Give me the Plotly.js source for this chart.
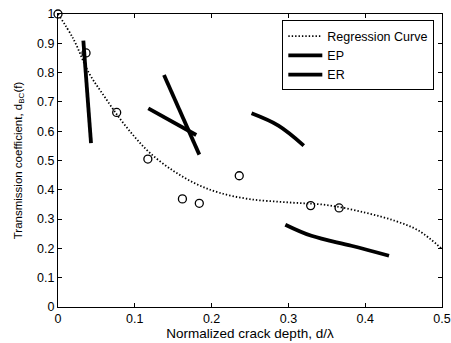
<!DOCTYPE html>
<html><head><meta charset="utf-8">
<script src="https://cdn.plot.ly/plotly-3.0.1.min.js"></script>
<style>html,body{margin:0;padding:0;background:#fff}</style>
</head><body><div id="chart" style="width:451px;height:343px"></div>
<script>
// Regression curve
const regX = [0, 0.02, 0.04, 0.06, 0.08, 0.10, 0.12, 0.15, 0.18, 0.21, 0.25, 0.30, 0.35, 0.40, 0.44, 0.47, 0.50];
const regY = [1.0, 0.915, 0.80, 0.72, 0.645, 0.58, 0.525, 0.465, 0.42, 0.39, 0.368, 0.357, 0.348, 0.322, 0.293, 0.26, 0.198];
// Measured points (circles)
const ptX = [0, 0.0365, 0.0764, 0.117, 0.162, 0.184, 0.236, 0.329, 0.366];
const ptY = [1.0, 0.867, 0.664, 0.505, 0.369, 0.354, 0.448, 0.346, 0.338];
// EP segments
const ep1X = [0.033, 0.043], ep1Y = [0.909, 0.559];
const ep2X = [0.138, 0.184], ep2Y = [0.792, 0.52];
// ER segments
const er1X = [0.1176, 0.18], er1Y = [0.678, 0.587];
const er2X = [0.252, 0.287, 0.320], er2Y = [0.661, 0.619, 0.551];
const er3X = [0.296, 0.330, 0.382, 0.431], er3Y = [0.281, 0.243, 0.209, 0.175];
const xTicks = [0, 0.1, 0.2, 0.3, 0.4, 0.5];
const yTicks = [0, 0.1, 0.2, 0.3, 0.4, 0.5, 0.6, 0.7, 0.8, 0.9, 1];

const blk = '#000';
const seg = (x, y, name, show, grp) => ({x, y, mode: 'lines', type: 'scatter', name, legendgroup: grp, showlegend: show,
  line: {color: blk, width: 3.8, shape: 'spline'}, hoverinfo: 'skip'});
const traces = [
  {x: regX, y: regY, mode: 'lines', type: 'scatter', name: 'Regression Curve', line: {color: blk, width: 1.8, dash: '1.4px,2px', shape: 'spline'}},
  seg(ep1X, ep1Y, 'EP', true, 'ep'),
  seg(ep2X, ep2Y, 'EP', false, 'ep'),
  seg(er1X, er1Y, 'ER', true, 'er'),
  seg(er2X, er2Y, 'ER', false, 'er'),
  seg(er3X, er3Y, 'ER', false, 'er'),
  {x: ptX, y: ptY, mode: 'markers', type: 'scatter', showlegend: false, cliponaxis: false,
   marker: {symbol: 'circle-open', size: 8, color: blk, line: {width: 1.3, color: blk}}}
];
const ax = {
  showline: true, mirror: 'ticks', linecolor: blk, linewidth: 1, ticks: 'inside', ticklen: 4,
  tickcolor: blk, showgrid: false, zeroline: false, tickfont: {size: 12.5, color: blk}
};
const layout = {
  width: 451, height: 343,
  margin: {l: 58, r: 9, t: 14, b: 36},
  paper_bgcolor: '#fff', plot_bgcolor: '#fff',
  font: {family: 'Liberation Sans, Arial, sans-serif', color: blk, size: 12},
  xaxis: Object.assign({}, ax, {range: [0, 0.5], tickvals: xTicks, ticktext: xTicks.map(String),
    title: {text: 'Normalized crack depth, d/λ', font: {size: 13.5}, standoff: 2}}),
  yaxis: Object.assign({}, ax, {range: [0, 1], tickvals: yTicks, ticktext: yTicks.map(String),
    title: {text: 'Transmission coefficient, d<sub>BC</sub>(f)', font: {size: 11.5}, standoff: 12}}),
  legend: {x: 0.98, xanchor: 'right', y: 0.978, yanchor: 'top', bgcolor: '#fff', bordercolor: blk, borderwidth: 1,
    font: {size: 12.5}, tracegroupgap: 0, itemwidth: 34},
  showlegend: true
};
Plotly.newPlot('chart', traces, layout, {staticPlot: true});
</script></body></html>
